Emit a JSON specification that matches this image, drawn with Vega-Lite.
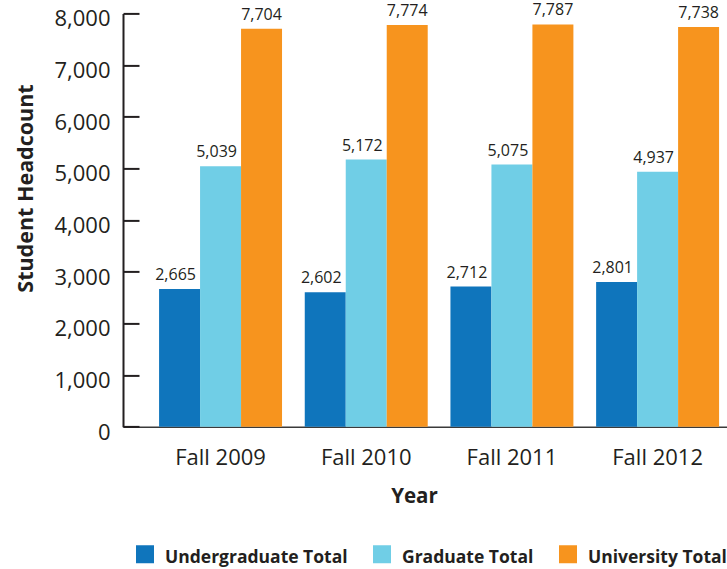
{
  "$schema": "https://vega.github.io/schema/vega-lite/v6.json",
  "width": 604,
  "height": 413.3,
  "autosize": {"type": "none"},
  "padding": {"left": 123, "top": 13.4, "right": 0, "bottom": 142.3},
  "background": "white",
  "config": {"view": {"stroke": null}, "font": "Open Sans", "axis": {"grid": false}},
  "data": {
    "values": [
      {"year": "Fall 2009", "series": "Undergraduate Total", "value": 2665},
      {"year": "Fall 2009", "series": "Graduate Total", "value": 5039},
      {"year": "Fall 2009", "series": "University Total", "value": 7704},
      {"year": "Fall 2010", "series": "Undergraduate Total", "value": 2602},
      {"year": "Fall 2010", "series": "Graduate Total", "value": 5172},
      {"year": "Fall 2010", "series": "University Total", "value": 7774},
      {"year": "Fall 2011", "series": "Undergraduate Total", "value": 2712},
      {"year": "Fall 2011", "series": "Graduate Total", "value": 5075},
      {"year": "Fall 2011", "series": "University Total", "value": 7787},
      {"year": "Fall 2012", "series": "Undergraduate Total", "value": 2801},
      {"year": "Fall 2012", "series": "Graduate Total", "value": 4937},
      {"year": "Fall 2012", "series": "University Total", "value": 7738}
    ]
  },
  "encoding": {
    "x": {
      "field": "year", "type": "nominal", "sort": null,
      "scale": {"paddingInner": 0.156, "paddingOuter": 0.151, "align": 0.82},
      "axis": {
        "title": "Year", "titleFontWeight": "bold", "titleFontSize": 20.5, "titleColor": "#231f20",
        "titleX": 291, "titleY": 75.3, "titleBaseline": "alphabetic", "titleAlign": "center",
        "labelAngle": 0, "labelFontSize": 22, "labelColor": "#231f20", "labelPadding": 21,
        "ticks": false, "domainColor": "#3a3a3a", "domainWidth": 1.5
      }
    },
    "xOffset": {
      "field": "series", "type": "nominal",
      "sort": ["Undergraduate Total", "Graduate Total", "University Total"],
      "scale": {"paddingInner": 0}
    },
    "y": {
      "field": "value", "type": "quantitative",
      "scale": {"domain": [0, 8000]},
      "axis": {
        "title": "Student Headcount", "values": [0, 1000, 2000, 3000, 4000, 5000, 6000, 7000, 8000],
        "format": ",.0f", "labelFontSize": 22, "labelColor": "#231f20", "labelBaseline": "middle",
        "tickSize": -16, "tickWidth": 2, "tickColor": "#231f20", "labelPadding": 29, "labelOffset": 5.5,
        "domainColor": "#231f20", "domainWidth": 2,
        "titleFontSize": 21.5, "titleFontWeight": "bold", "titleColor": "#231f20",
        "titleX": -91, "titleY": 174.6, "titleBaseline": "alphabetic", "titleAlign": "center"
      }
    }
  },
  "layer": [
    {
      "mark": {"type": "bar"},
      "encoding": {
        "color": {
          "field": "series", "type": "nominal",
          "scale": {
            "domain": ["Undergraduate Total", "Graduate Total", "University Total"],
            "range": ["#0f75bc", "#70cee6", "#f7941e"]
          },
          "legend": {
            "orient": "none", "legendX": 13, "legendY": 531.6, "direction": "horizontal",
            "title": null, "symbolType": "square", "symbolSize": 324, "symbolStrokeWidth": 0,
            "labelFontSize": 17.5, "labelFontWeight": "bold", "labelColor": "#231f20",
            "labelOffset": 11, "columnPadding": 25, "labelLimit": 300, "padding": 0,
            "encode": {"labels": {"update": {"dy": {"value": 4}}}}
          }
        }
      }
    },
    {
      "transform": [{"filter": "datum.series != 'University Total'"}],
      "mark": {"type": "text", "dx": -4, "dy": -9, "baseline": "alphabetic", "fontSize": 16, "color": "#231f20"},
      "encoding": {"text": {"field": "value", "type": "quantitative", "format": ","}}
    },
    {
      "transform": [{"filter": "datum.series == 'University Total'"}],
      "mark": {"type": "text", "dx": 0, "dy": -9, "baseline": "alphabetic", "fontSize": 16, "color": "#231f20"},
      "encoding": {"text": {"field": "value", "type": "quantitative", "format": ","}}
    }
  ]
}
